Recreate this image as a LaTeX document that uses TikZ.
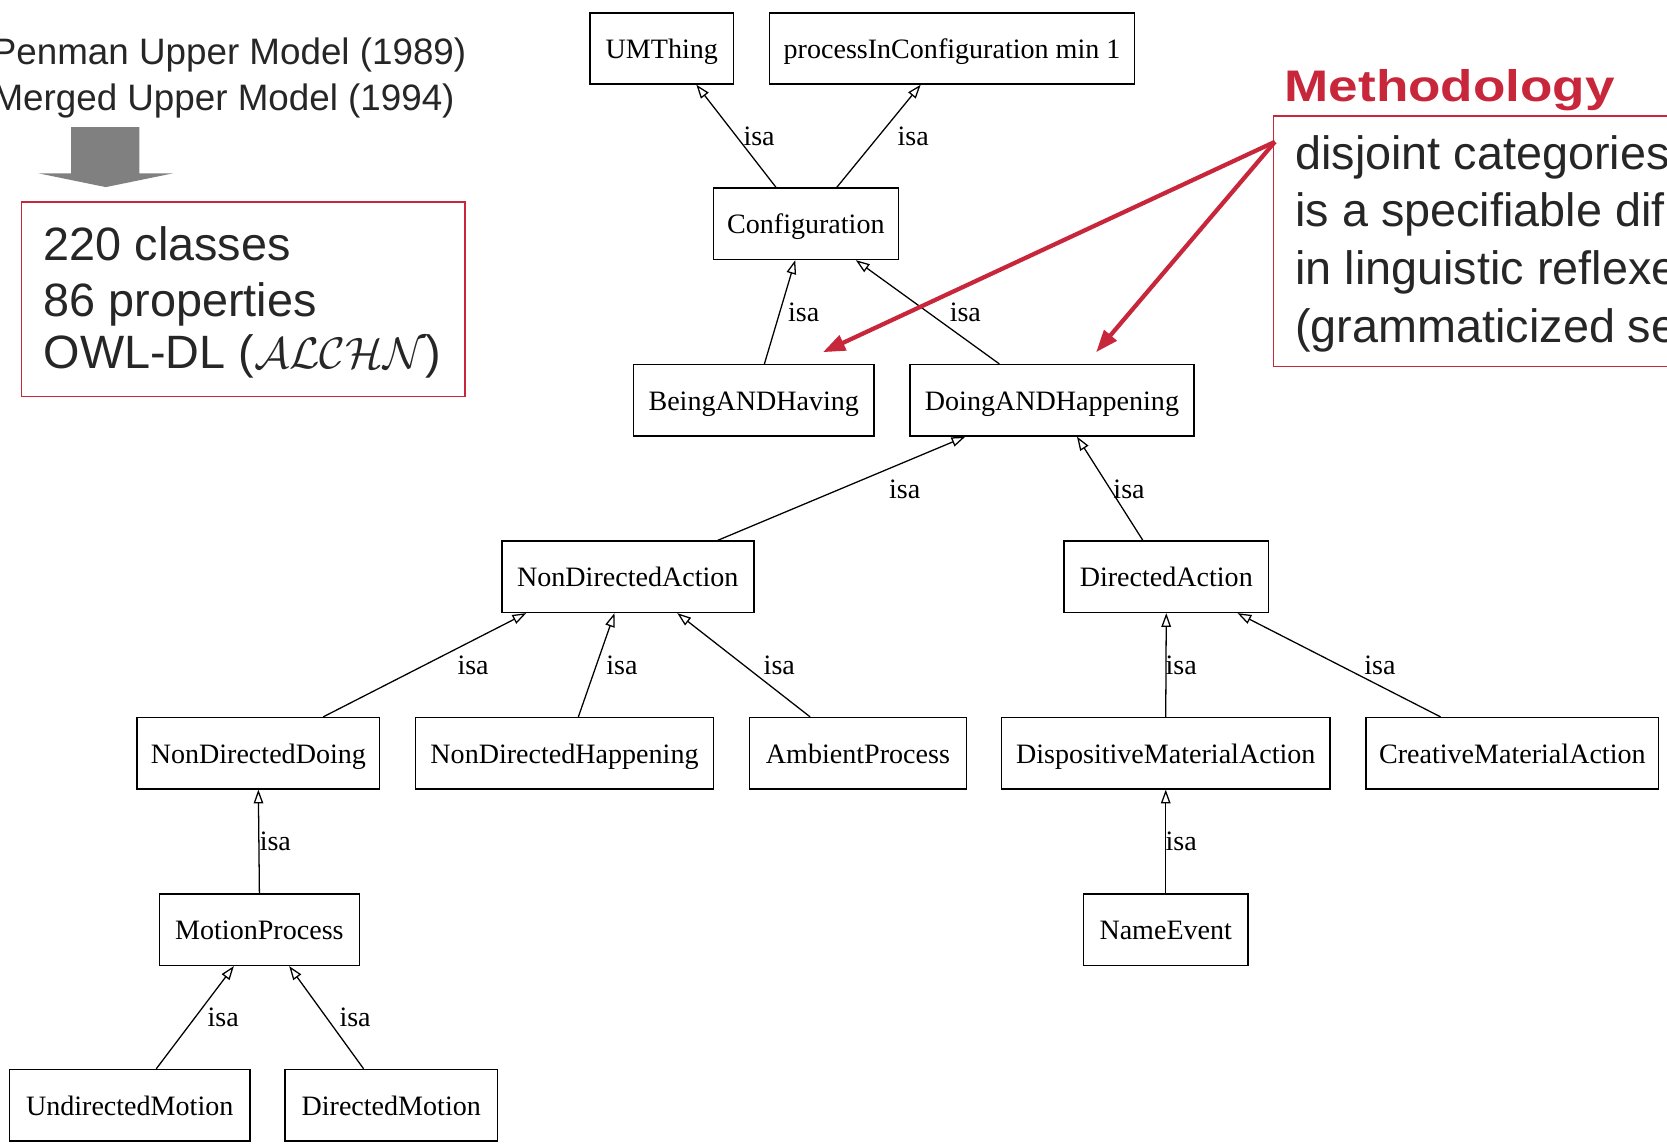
\documentclass[tikz,border=0pt]{standalone}
\usepackage{fontspec}
\setmainfont{Liberation Serif}
\setsansfont{Liberation Sans}
\usetikzlibrary{arrows.meta,calc}
\definecolor{slidered}{RGB}{200,38,58}
\definecolor{slidetext}{RGB}{38,38,38}
\definecolor{blockgray}{RGB}{128,128,128}
\begin{document}
\begin{tikzpicture}[x=0.5pt,y=-0.5pt,
  cls/.style={draw=black, line width=0.7pt, minimum height=33.5pt, inner sep=0pt, text height=12pt, text depth=2.5pt, font=\fontsize{13.2}{15}\selectfont},
  isaedge/.style={draw=black, line width=0.6pt, -{Triangle[open,length=6.5pt,width=4.5pt]}},
  lbl/.style={font=\fontsize{13.2}{15}\selectfont, inner sep=0pt},
  bigtxt/.style={font=\sffamily\fontsize{22}{26}\selectfont, text=slidetext, inner sep=0pt, anchor=base west},
  midtxt/.style={font=\sffamily\fontsize{17.3}{20}\selectfont, text=slidetext, inner sep=0pt, anchor=base east},
  redbox/.style={draw=slidered, line width=0.6pt, inner sep=0pt},
  redarrow/.style={draw=slidered, line width=2pt, -{Triangle[length=10.5pt,width=7.5pt]}}
]
\useasboundingbox (0,0) rectangle (1568,1076);
\clip (0,0) rectangle (1568,1076);

% ---------- left panel ----------
\node[midtxt] (penman) at (439,61) {Penman Upper Model (1989)};
\node[midtxt] (merged) at (428,103.5) {Merged Upper Model (1994)};
\fill[blockgray] (67,119.5) -- (131,119.5) -- (131,163) -- (163,163) -- (99.5,176) -- (36,163) -- (67,163) -- cycle;
\node[redbox, minimum width=208.5pt, minimum height=91.5pt] (statbox) at (229,281.5) {};
\node[bigtxt] (classes) at (40.7,244.6) {220 classes};
\node[bigtxt] (props) at (40.7,298) {86 properties};
\node[bigtxt] (owl) at (40.7,346.5) {OWL-DL ($\mathcal{ALCHN}$)};

% ---------- methodology panel ----------
\node[anchor=base west, inner sep=0pt, text=slidered, font=\sffamily\bfseries\fontsize{20.8}{24}\selectfont] (mtitle) at (1208,95.7) {\scalebox{1.2}[1]{Methodology}};
\node[redbox, minimum width=251pt, minimum height=118pt] (mbox) at (1448.8,227) {};
\node[bigtxt] (m1) at (1218,159) {disjoint categories};
\node[bigtxt] (m2) at (1218,213.5) {is a specifiable dif};
\node[bigtxt] (m3) at (1218,268) {in linguistic reflexe};
\node[bigtxt] (m4) at (1218,322.5) {(grammaticized se};

% ---------- class nodes ----------
\node[cls, minimum width=67.5pt]  (um)  at (622.5,45.5) {UMThing};
\node[cls, minimum width=171.5pt] (pic) at (895.5,45.5) {processInConfiguration min 1};
\node[cls, minimum width=87pt]    (cfg) at (758,210.5) {Configuration};
\node[cls, minimum width=113pt]   (bah) at (709,376.5) {BeingANDHaving};
\node[cls, minimum width=133.5pt] (dah) at (989.5,376.5) {DoingANDHappening};
\node[cls, minimum width=118.5pt] (nda) at (590.5,542.5) {NonDirectedAction};
\node[cls, minimum width=96pt]    (da)  at (1097,542.5) {DirectedAction};
\node[cls, minimum width=114pt]   (ndd) at (243,708.5) {NonDirectedDoing};
\node[cls, minimum width=140pt]   (ndh) at (531,708.5) {NonDirectedHappening};
\node[cls, minimum width=102pt]   (amb) at (807,708.5) {AmbientProcess};
\node[cls, minimum width=154.5pt] (dma) at (1096.5,708.5) {DispositiveMaterialAction};
\node[cls, minimum width=137.5pt] (cma) at (1422.5,708.5) {CreativeMaterialAction};
\node[cls, minimum width=94pt]    (mp)  at (244,874.5) {MotionProcess};
\node[cls, minimum width=77.5pt]  (ne)  at (1096.5,874.5) {NameEvent};
\node[cls, minimum width=113pt]   (udm) at (122,1039.5) {UndirectedMotion};
\node[cls, minimum width=100pt]   (dmo) at (368,1039.5) {DirectedMotion};

% ---------- isa edges ----------
\draw[isaedge] ($(cfg.north)+(-28,0)$) -- ($(um.south)+(32.5,0)$);
\draw[isaedge] ($(cfg.north)+(29,0)$) -- ($(pic.south)+(-29.5,0)$);
\draw[isaedge] ($(bah.north)+(10,0)$) -- ($(cfg.south)+(-10,0)$);
\draw[isaedge] ($(dah.north)+(-49.5,0)$) -- ($(cfg.south)+(47,0)$);
\draw[isaedge] ($(nda.north)+(84.5,0)$) -- ($(dah.south)+(-81.5,0)$);
\draw[isaedge] ($(da.north)+(-22,0)$) -- ($(dah.south)+(23.5,0)$);
\draw[isaedge] ($(ndd.north)+(61,0)$) -- ($(nda.south)+(-95.5,0)$);
\draw[isaedge] ($(ndh.north)+(13,0)$) -- ($(nda.south)+(-12.5,0)$);
\draw[isaedge] ($(amb.north)+(-45,0)$) -- ($(nda.south)+(46.5,0)$);
\draw[isaedge] (dma.north) -- (da.south);
\draw[isaedge] ($(cma.north)+(-67.5,0)$) -- ($(da.south)+(67,0)$);
\draw[isaedge] (mp.north) -- (ndd.south);
\draw[isaedge] (ne.north) -- (dma.south);
\draw[isaedge] ($(udm.north)+(25,0)$) -- ($(mp.south)+(-24,0)$);
\draw[isaedge] ($(dmo.north)+(-26,0)$) -- ($(mp.south)+(28,0)$);

% ---------- isa labels ----------
\node[lbl] (l1) at (714,128) {isa};
\node[lbl] (l2) at (859,128) {isa};
\node[lbl] (l3) at (756,294) {isa};
\node[lbl] (l4) at (908,294) {isa};
\node[lbl] (l5) at (851,460) {isa};
\node[lbl] (l6) at (1062,460) {isa};
\node[lbl] (l7) at (445,626) {isa};
\node[lbl] (l8) at (585,626) {isa};
\node[lbl] (l9) at (733,626) {isa};
\node[lbl] (l10) at (1111,626) {isa};
\node[lbl] (l11) at (1298,626) {isa};
\node[lbl] (l12) at (259,791) {isa};
\node[lbl] (l13) at (1111,791) {isa};
\node[lbl] (l14) at (210,957) {isa};
\node[lbl] (l15) at (334,957) {isa};

% ---------- red pointers ----------
\coordinate (mstart) at ($(mbox.north west)+(2,25)$);
\draw[redarrow] (mstart) -- ($(bah.north)+(65,-11)$);
\draw[redarrow] (mstart) -- ($(dah.north)+(41.5,-11)$);
\end{tikzpicture}
\end{document}
